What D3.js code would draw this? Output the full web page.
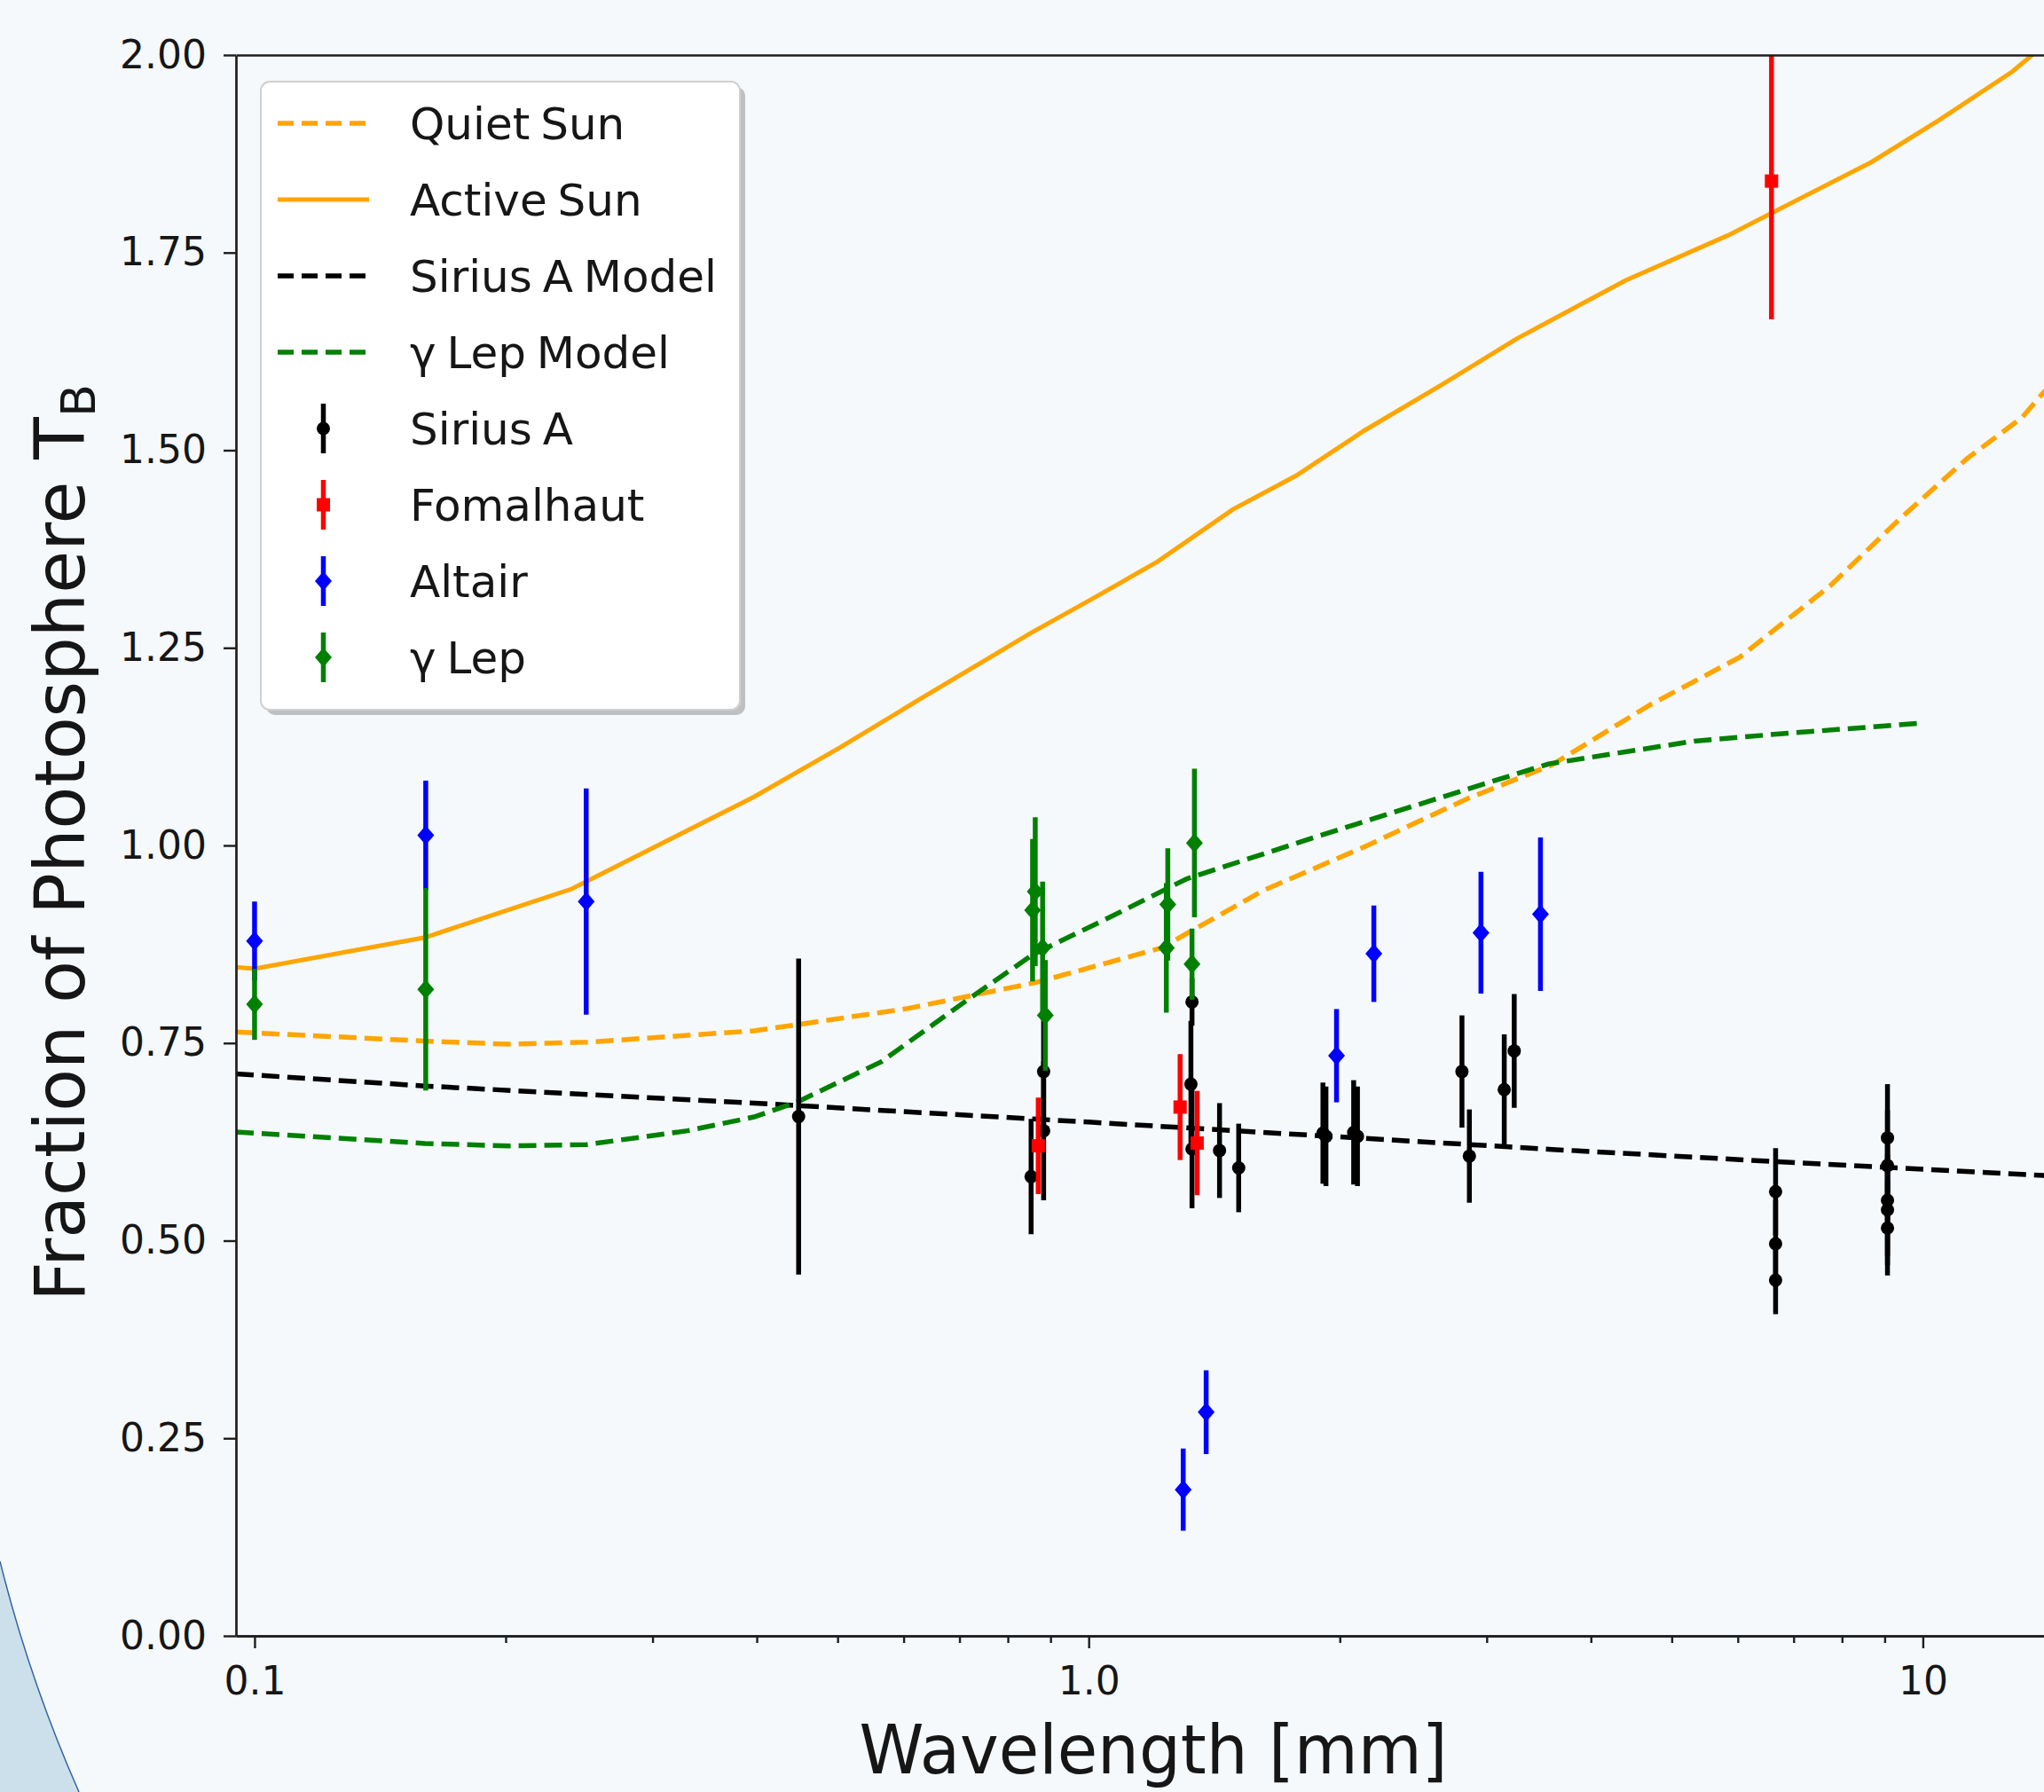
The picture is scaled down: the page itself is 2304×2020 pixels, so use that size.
<!DOCTYPE html>
<html>
<head>
<meta charset="utf-8">
<script src="https://cdn.jsdelivr.net/npm/d3@7"></script>
<style>
  html, body { margin: 0; padding: 0; background: #f5f9fc; }
  svg { display: block; }
  text { font-family: "DejaVu Sans", sans-serif; fill: #161616; }
</style>
</head>
<body>
<svg id="chart" width="2304" height="2020"></svg>
<script>
// Model curves: wavelength [mm] vs fraction of photosphere T_B
var quietSunX = [0.095, 0.16, 0.202, 0.25, 0.397, 0.4486, 0.6046, 0.8655, 1.221, 1.618, 2.145, 2.842, 3.594, 4.693, 6.03, 7.745, 9.36, 11.3, 13.14, 13.95, 15];
var quietSunY = [0.764, 0.7525, 0.7485, 0.751, 0.7655, 0.7734, 0.7934, 0.8267, 0.8703, 0.9428, 0.9987, 1.059, 1.102, 1.177, 1.238, 1.3286, 1.412, 1.4895, 1.541, 1.573, 1.61];

var activeSunX = [0.095, 0.1, 0.16, 0.24, 0.397, 0.5044, 0.628, 0.853, 1.005, 1.209, 1.488, 1.774, 2.141, 2.651, 3.259, 4.404, 5.845, 8.677, 10.47, 12.8, 13.45, 15];
var activeSunY = [0.846, 0.844, 0.8835, 0.945, 1.0615, 1.1244, 1.1853, 1.269, 1.3107, 1.359, 1.425, 1.468, 1.525, 1.583, 1.641, 1.715, 1.772, 1.8645, 1.918, 1.979, 1.998, 2.04];

var siriusModelX = [0.095, 0.16, 0.397, 1.0, 3.594, 6.67, 13.95, 15];
var siriusModelY = [0.711, 0.6957, 0.674, 0.650, 0.6154, 0.600, 0.5824, 0.580];

var gamLepModelX = [0.095, 0.16, 0.202, 0.25, 0.3303, 0.397, 0.4475, 0.564, 0.716, 0.857, 1.062, 1.31, 1.862, 2.839, 3.558, 5.318, 6.84, 9.97];
var gamLepModelY = [0.6374, 0.623, 0.6198, 0.6215, 0.639, 0.6565, 0.6755, 0.7263, 0.8048, 0.862, 0.9096, 0.9577, 1.01, 1.071, 1.1031, 1.132, 1.1417, 1.1547];

// Measurements with symmetric errors
var siriusX   = [0.449, 0.853, 0.883, 0.883, 1.330, 1.326, 1.330, 1.435, 1.513, 1.909, 1.925, 2.078, 2.100, 2.802, 2.860, 3.149, 3.237, 6.66, 6.66, 6.66, 9.07, 9.07, 9.07, 9.07, 9.07];
var siriusY   = [0.657, 0.581, 0.714, 0.639, 0.802, 0.698, 0.616, 0.614, 0.592, 0.636, 0.632, 0.637, 0.632, 0.714, 0.607, 0.691, 0.740, 0.562, 0.496, 0.450, 0.630, 0.595, 0.551, 0.539, 0.516];
var siriusErr = [0.200, 0.073, 0.075, 0.088, 0.030, 0.080, 0.075, 0.060, 0.056, 0.064, 0.063, 0.066, 0.063, 0.071, 0.059, 0.070, 0.072, 0.055, 0.055, 0.043, 0.068, 0.070, 0.070, 0.070, 0.060];

var fomalhautX   = [0.870, 1.287, 1.349, 6.585];
var fomalhautY   = [0.620, 0.669, 0.6235, 1.8405];
var fomalhautErr = [0.061, 0.067, 0.066, 0.175];

var altairX   = [0.1, 0.1604, 0.2498, 1.298, 1.383, 1.982, 2.197, 2.953, 3.48];
var altairY   = [0.879, 1.013, 0.929, 0.185, 0.283, 0.734, 0.863, 0.8895, 0.913];
var altairErr = [0.05, 0.069, 0.143, 0.052, 0.053, 0.059, 0.061, 0.077, 0.097];

var gamLepX   = [0.1, 0.1604, 0.8565, 0.8628, 0.8805, 0.8871, 1.244, 1.239, 1.339, 1.330];
var gamLepY   = [0.799, 0.818, 0.918, 0.9415, 0.8704, 0.785, 0.9254, 0.8704, 1.0032, 0.8498];
var gamLepErr = [0.045, 0.128, 0.09, 0.094, 0.084, 0.07, 0.071, 0.082, 0.094, 0.045];

// Axes ticks and labels
var yTicks = [0, 0.25, 0.5, 0.75, 1.0, 1.25, 1.5, 1.75, 2.0];
var xTicks = [0.1, 1, 10];
var xTickLabels = ["0.1", "1.0", "10"];
var xMinorTicks = [0.2, 0.3, 0.4, 0.5, 0.6, 0.7, 0.8, 0.9, 2, 3, 4, 5, 6, 7, 8, 9];
var legendLabels = ["Quiet Sun", "Active Sun", "Sirius A Model", "γ Lep Model", "Sirius A", "Fomalhaut", "Altair", "γ Lep"];

function init() {
  var W = 2304, H = 2020;
  var plotLeft = 266, plotRight = 2333, plotTop = 62, plotBottom = 1844;
  var svg = d3.select("#chart");

  // slide background with the blue arc at the bottom left
  svg.append("rect").attr("width", W).attr("height", H).attr("fill", "#f5f9fc");
  svg.append("path").attr("d", "M0,1760 A1600,1600 0 0 0 89,2020 L0,2020 Z").attr("fill", "#cce0eb");
  svg.append("path").attr("d", "M0,1760 A1600,1600 0 0 0 89,2020")
     .attr("fill", "none").attr("stroke", "#3563a8").attr("stroke-width", 1.5);

  var x = d3.scaleLog().domain([0.095, 15]).range([plotLeft, plotRight]);
  var y = d3.scaleLinear().domain([0, 2]).range([plotBottom, plotTop]);

  svg.append("defs").append("clipPath").attr("id", "plotClip").append("rect")
     .attr("x", plotLeft).attr("y", plotTop)
     .attr("width", plotRight - plotLeft).attr("height", plotBottom - plotTop);

  var plot = svg.append("g").attr("clip-path", "url(#plotClip)");
  var line = d3.line().x(function(d) { return x(d[0]); }).y(function(d) { return y(d[1]); });

  function drawCurve(xs, ys, color, dashed) {
    plot.append("path").datum(d3.zip(xs, ys))
        .attr("d", line)
        .attr("fill", "none")
        .attr("stroke", color)
        .attr("stroke-width", dashed ? 5.5 : 5)
        .attr("stroke-dasharray", dashed ? "20,9" : null);
  }

  var markers = {
    circle: "M-7.5,0A7.5,7.5 0 1,0 7.5,0A7.5,7.5 0 1,0 -7.5,0Z",
    square: "M-7.5,-7.5H7.5V7.5H-7.5Z",
    diamond: "M0,-11L9.5,0L0,11L-9.5,0Z"
  };

  function drawErrorbars(xs, ys, errs, color, marker) {
    var pts = d3.zip(xs, ys, errs);
    var g = plot.append("g");
    g.selectAll("line").data(pts).enter().append("line")
     .attr("x1", function(d) { return x(d[0]); })
     .attr("x2", function(d) { return x(d[0]); })
     .attr("y1", function(d) { return y(d[1] - d[2]); })
     .attr("y2", function(d) { return y(d[1] + d[2]); })
     .attr("stroke", color).attr("stroke-width", 5.5);
    g.selectAll("path").data(pts).enter().append("path")
     .attr("transform", function(d) { return "translate(" + x(d[0]) + "," + y(d[1]) + ")"; })
     .attr("d", markers[marker])
     .attr("fill", color);
  }

  drawCurve(quietSunX, quietSunY, "#ffa500", true);
  drawCurve(activeSunX, activeSunY, "#ffa500", false);
  drawCurve(siriusModelX, siriusModelY, "#000000", true);
  drawCurve(gamLepModelX, gamLepModelY, "#008000", true);

  drawErrorbars(siriusX, siriusY, siriusErr, "#000000", "circle");
  drawErrorbars(fomalhautX, fomalhautY, fomalhautErr, "#ff0000", "square");
  drawErrorbars(altairX, altairY, altairErr, "#0000ff", "diamond");
  drawErrorbars(gamLepX, gamLepY, gamLepErr, "#008000", "diamond");

  // axes
  var yAxis = d3.axisLeft(y).tickValues(yTicks).tickFormat(d3.format(".2f"))
                .tickSize(14).tickSizeOuter(0).tickPadding(19);
  svg.append("g").attr("transform", "translate(" + plotLeft + ",0)").call(yAxis);

  var xMinor = d3.axisBottom(x).tickValues(xMinorTicks).tickFormat("").tickSize(8).tickSizeOuter(0);
  svg.append("g").attr("transform", "translate(0," + plotBottom + ")").call(xMinor);

  var xAxis = d3.axisBottom(x).tickValues(xTicks)
                .tickFormat(function(d, i) { return xTickLabels[i]; })
                .tickSize(14).tickSizeOuter(0).tickPadding(21);
  svg.append("g").attr("transform", "translate(0," + plotBottom + ")").call(xAxis);

  var xTop = d3.axisTop(x).tickValues([]).tickSizeOuter(0);
  svg.append("g").attr("transform", "translate(0," + plotTop + ")").call(xTop);

  svg.selectAll(".domain").attr("stroke", "#1e1e1e").attr("stroke-width", 2.7);
  svg.selectAll(".tick line").attr("stroke", "#1e1e1e").attr("stroke-width", 2.4);
  svg.selectAll(".tick text").attr("font-size", 44).attr("font-family", "DejaVu Sans").attr("fill", "#161616");

  // axis labels
  var yl = svg.append("text")
     .attr("transform", "translate(95,950) rotate(-90)")
     .attr("text-anchor", "middle")
     .attr("font-size", 78)
     .text("Fraction of Photosphere T");
  yl.append("tspan").attr("font-size", 54).attr("dy", 12).text("B");

  svg.append("text")
     .attr("x", 1300).attr("y", 1999)
     .attr("text-anchor", "middle")
     .attr("font-size", 77)
     .attr("textLength", 663).attr("lengthAdjust", "spacingAndGlyphs")
     .text("Wavelength [mm]");

  // legend
  var legendX = 294, legendY = 92, legendW = 540, legendH = 708;
  var legend = svg.append("g");
  legend.append("rect").attr("x", legendX + 6).attr("y", legendY + 6)
        .attr("width", legendW).attr("height", legendH).attr("rx", 10)
        .attr("fill", "#9a9a9a").attr("opacity", 0.6);
  legend.append("rect").attr("x", legendX).attr("y", legendY)
        .attr("width", legendW).attr("height", legendH).attr("rx", 10)
        .attr("fill", "#ffffff").attr("stroke", "#d0d0d0").attr("stroke-width", 2);

  var legendStyle = [
    {type: "line", color: "#ffa500", dash: true},
    {type: "line", color: "#ffa500", dash: false},
    {type: "line", color: "#000000", dash: true},
    {type: "line", color: "#008000", dash: true},
    {type: "err", color: "#000000", marker: "circle"},
    {type: "err", color: "#ff0000", marker: "square"},
    {type: "err", color: "#0000ff", marker: "diamond"},
    {type: "err", color: "#008000", marker: "diamond"}
  ];

  var rows = legend.selectAll("g.row").data(legendLabels).enter().append("g")
     .attr("class", "row")
     .attr("transform", function(d, i) { return "translate(0," + (139 + i * 86) + ")"; });

  rows.each(function(d, i) {
    var row = d3.select(this), s = legendStyle[i];
    if (s.type === "line") {
      row.append("line").attr("x1", 313).attr("x2", 416).attr("y1", 0).attr("y2", 0)
         .attr("stroke", s.color).attr("stroke-width", s.dash ? 5.5 : 5)
         .attr("stroke-dasharray", s.dash ? "18,9" : null);
    } else {
      row.append("line").attr("x1", 364.5).attr("x2", 364.5).attr("y1", -28).attr("y2", 28)
         .attr("stroke", s.color).attr("stroke-width", 5.5);
      row.append("path").attr("transform", "translate(364.5,0)")
         .attr("d", markers[s.marker]).attr("fill", s.color);
    }
    row.append("text").attr("x", 462).attr("y", 0).attr("dy", "0.36em")
       .attr("font-size", 50).attr("word-spacing", -4).text(d);
  });
}

init();
</script>
</body>
</html>
